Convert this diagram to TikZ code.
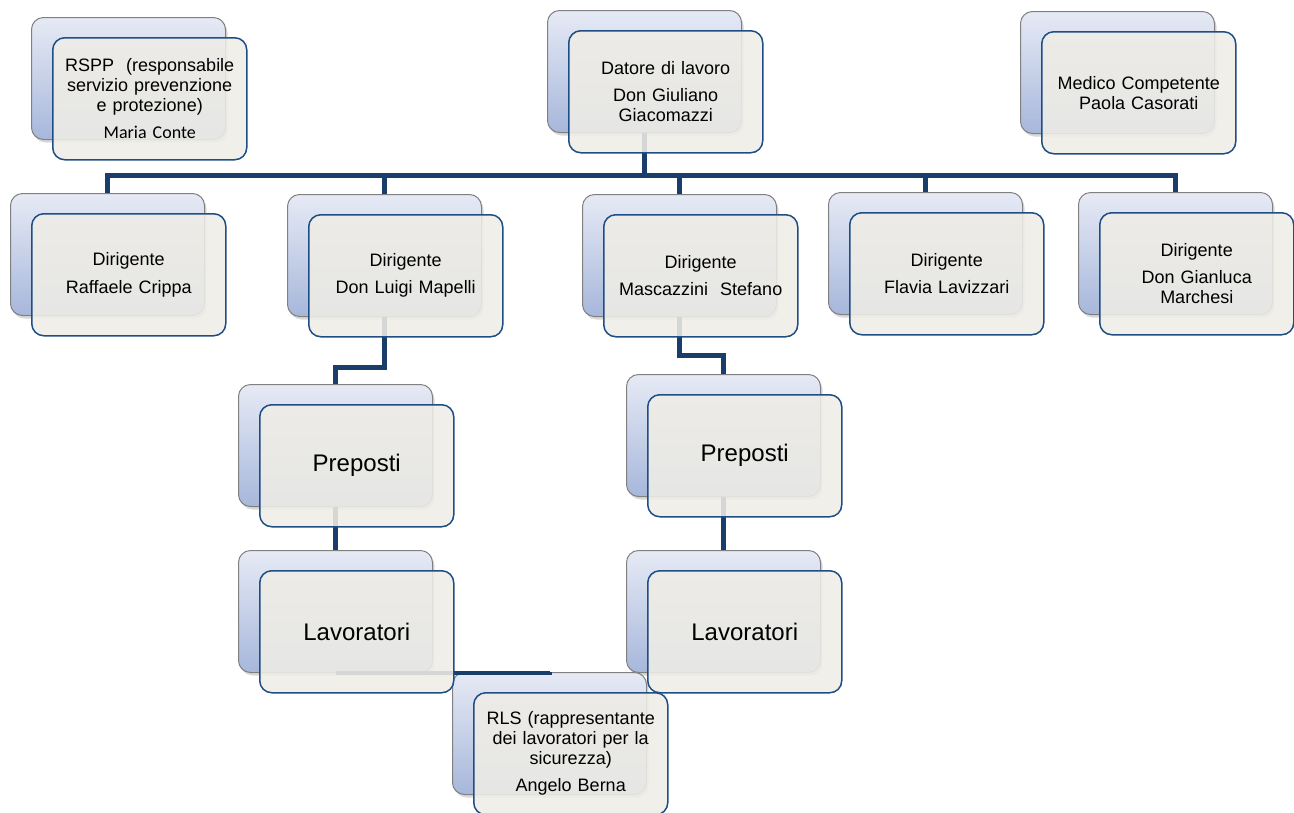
\documentclass[tikz,border=0pt]{standalone}
\usepackage{fontspec}
\setmainfont{Liberation Sans}
\newfontfamily\calibrifont{Carlito}
\usetikzlibrary{calc,positioning,shadows}
\definecolor{backtop}{HTML}{E6EAF5}
\definecolor{backbot}{HTML}{A7B7DB}
\definecolor{backline}{HTML}{808080}
\definecolor{frontfill}{HTML}{EFEDE6}
\definecolor{frontline}{HTML}{1F4E84}
\definecolor{linkcol}{HTML}{1A3E6C}
\begin{document}
\begin{tikzpicture}[x=1pt,y=-1pt,
    backbox/.style={draw=backline,line width=1pt,rounded corners=12pt,
      top color=backtop,bottom color=backbot,minimum width=194pt,
      minimum height=122pt,inner sep=0pt,anchor=north west,
      drop shadow={shadow xshift=2pt,shadow yshift=-3pt,opacity=0.3}},
    frontbox/.style={draw=frontline,line width=1.5pt,rounded corners=12pt,
      fill=frontfill,fill opacity=0.88,text opacity=1,minimum width=194pt,
      minimum height=122pt,inner sep=0pt,text width=186pt,align=center,
      font=\fontsize{18}{20}\selectfont},
    bigbox/.style={frontbox,font=\fontsize{24}{26}\selectfont},
    link/.style={draw=linkcol,line width=5pt}]
    \useasboundingbox (0,0) rectangle (1294,812);
    \clip (0,0) rectangle (1294,812);
    % back boxes
    \node[backbox] (RSPPb) at (31,17) {};
    \node[backbox] (DLb) at (547,10) {};
    \node[backbox] (MCb) at (1020,11) {};
    \node[backbox] (RCb) at (10,193) {};
    \node[backbox] (LMb) at (287,194) {};
    \node[backbox] (MSb) at (582,194) {};
    \node[backbox] (FLb) at (828,192) {};
    \node[backbox] (GMb) at (1078,192) {};
    \node[backbox] (PLb) at (238,384) {};
    \node[backbox] (LLb) at (238,550) {};
    \node[backbox] (PRb) at (626,374) {};
    \node[backbox] (LRb) at (626,550) {};
    \node[backbox] (RLSb) at (452,672) {};
    % connectors
    \coordinate (bar) at (0,175);
    \draw[link] (DLb.south) |- (RCb.north |- bar) -- (RCb.north);
    \draw[link] (DLb.south) |- (LMb.north |- bar) -- (LMb.north);
    \draw[link] (DLb.south) |- (MSb.north |- bar) -- (MSb.north);
    \draw[link] (DLb.south) |- (FLb.north |- bar) -- (FLb.north);
    \draw[link] (DLb.south) |- (GMb.north |- bar) -- (GMb.north);
    \draw[link] (LMb.south) -- ++(0,50) -| (PLb.north);
    \draw[link] (MSb.south) -- ++(0,38) -| (PRb.north);
    \draw[link] (PLb.south) -- (LLb.north);
    \draw[link] (PRb.south) -- (LRb.north);
    \draw[link,line width=4pt] (LLb.south) -| (RLSb.north);
    % front boxes
    \node[frontbox,below right=20pt and 21pt of RSPPb.north west] (RSPP)
      {RSPP~ (responsabile\\servizio prevenzione\\e protezione)\\[7pt]{\calibrifont Maria Conte}};
    \node[frontbox,below right=20pt and 21pt of DLb.north west] (DL)
      {Datore di lavoro\\[7pt]Don Giuliano\\Giacomazzi};
    \node[frontbox,below right=20pt and 21pt of MCb.north west] (MC)
      {Medico Competente\\Paola Casorati};
    \node[frontbox,below right=20pt and 21pt of RCb.north west] (RC)
      {Dirigente\\[8pt]Raffaele Crippa};
    \node[frontbox,below right=20pt and 21pt of LMb.north west] (LM)
      {Dirigente\\[7pt]Don Luigi Mapelli};
    \node[frontbox,below right=20pt and 21pt of MSb.north west] (MS)
      {Dirigente\\[7pt]Mascazzini\ \ Stefano};
    \node[frontbox,below right=20pt and 21pt of FLb.north west] (FL)
      {Dirigente\\[7pt]Flavia Lavizzari};
    \node[frontbox,below right=20pt and 21pt of GMb.north west] (GM)
      {Dirigente\\[7pt]Don Gianluca\\Marchesi};
    \node[bigbox,below right=20pt and 21pt of PLb.north west] (PL) {Preposti};
    \node[bigbox,below right=20pt and 21pt of LLb.north west] (LL) {Lavoratori};
    \node[bigbox,below right=20pt and 21pt of PRb.north west] (PR) {Preposti};
    \node[bigbox,below right=20pt and 21pt of LRb.north west] (LR) {Lavoratori};
    \node[frontbox,below right=20pt and 21pt of RLSb.north west] (RLS)
      {RLS (rappresentante\\dei lavoratori per la\\sicurezza)\\[7pt]Angelo Berna};
\end{tikzpicture}
\end{document}
